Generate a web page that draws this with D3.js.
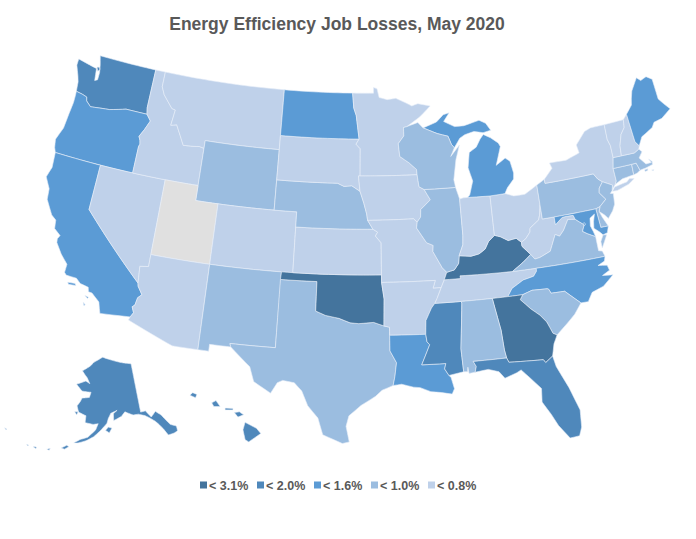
<!DOCTYPE html>
<html>
<head>
<meta charset="utf-8">
<script src="https://cdn.jsdelivr.net/npm/d3@7"></script>
<style>
  html, body { margin: 0; background: #fff; }
  text { font-family: "Liberation Sans", Arial, sans-serif; font-weight: bold; fill: #595959; }
</style>
</head>
<body>
<svg></svg>
<script>
let width = 696,
    height = 539;

// legend bins, darkest first
let binLabels = ["< 3.1%", "< 2.0%", "< 1.6%", "< 1.0%", "< 0.8%"];
let binColors = ["#44749d", "#4f88bb", "#5b9bd5", "#9bbde0", "#bfd1ea"];
let noDataColor = "#e0e0e0";

// which bin each state falls in
let bin31 = ["KY", "OK", "GA"];
let bin20 = ["WA", "AK", "HI", "FL", "MS"];
let bin16 = ["OR", "CA", "ND", "MI", "ME", "LA", "NC", "MD", "DC"];
let bin10 = ["WY", "NE", "NM", "TX", "IL", "AL", "SC", "VA", "PA", "NJ", "MA", "CT", "RI", "DE", "WI"];
let bin08 = ["MT", "ID", "NV", "AZ", "CO", "SD", "MN", "IA", "KS", "MO", "AR", "TN", "IN", "OH", "WV", "NY", "VT", "NH"];
let noData = ["UT"];

// the two insets sit a little off the stock albersUsa spot
let insetShift = {AK: [9, 2], HI: [6, -5]};

// simplified state outlines, "lon,lat" rings
let shapes = {
  WA: ["-124.7,48.38 -123.1,48.15 -122.75,48.1 -122.6,47.3 -122.35,47.4 -122.35,47.9 -122.5,48.4 -122.75,49 -117.03,49 -117.04,46.42 -116.92,45.99 -118.98,46 -119.3,45.93 -120.5,45.7 -121.2,45.65 -122.3,45.55 -122.8,45.85 -122.9,46.1 -123.4,46.2 -124,46.27 -124.07,46.7 -124.1,46.9 -124.3,47.3 -124.7,47.95",
       "-122.75,48.2 -122.5,48.25 -122.4,48.1 -122.55,47.95"],
  OR: ["-124,46.27 -123.4,46.2 -122.9,46.1 -122.8,45.85 -122.3,45.55 -121.2,45.65 -120.5,45.7 -119.3,45.93 -118.98,46 -116.92,45.99 -116.47,45.6 -116.85,44.95 -117.2,44.45 -117.03,44.2 -116.95,43.95 -117.03,43.8 -117.03,42 -124.21,42 -124.4,42.3 -124.55,42.84 -124.15,43.7 -124.05,44.7 -123.95,45.5 -123.97,46"],
  CA: ["-124.21,42 -120,42 -120,39 -114.63,35 -114.57,34.8 -114.14,34.3 -114.43,34.05 -114.53,33.55 -114.72,33.4 -114.52,33.03 -114.72,32.72 -117.12,32.53 -117.25,32.85 -117.4,33.25 -118.1,33.72 -118.4,33.75 -118.5,34.03 -119.2,34.15 -119.6,34.42 -120.47,34.45 -120.65,34.6 -120.63,35.15 -121.3,35.7 -121.9,36.35 -121.95,36.6 -121.8,36.85 -122.4,37.2 -122.5,37.75 -122.95,38 -123.7,38.9 -123.8,39.6 -124.35,40.3 -124.1,41",
       "-120.2,34.02 -119.6,34.07 -119.5,33.95 -120.1,33.9",
       "-118.6,33.45 -118.3,33.4 -118.35,33.3",
       "-118.6,33 -118.4,32.85 -118.5,32.8"],
  NV: ["-120,42 -114.04,42 -114.04,36.2 -114.75,36.1 -114.63,35 -120,39"],
  ID: ["-117.03,49 -116.05,49 -116.05,48 -115.7,47.5 -114.7,46.7 -114.35,46.65 -114.5,45.6 -113.95,45.7 -113.45,45.05 -113,44.45 -112,44.5 -111.5,44.55 -111.05,44.48 -111.05,42 -117.03,42 -117.03,43.8 -116.95,43.95 -117.03,44.2 -117.2,44.45 -116.85,44.95 -116.47,45.6 -116.92,45.99 -117.04,46.42"],
  MT: ["-116.05,49 -104.05,49 -104.05,45 -111.05,45 -111.05,44.48 -111.5,44.55 -112,44.5 -113,44.45 -113.45,45.05 -113.95,45.7 -114.5,45.6 -114.35,46.65 -114.7,46.7 -115.7,47.5 -116.05,48"],
  WY: ["-111.05,45 -104.05,45 -104.05,41 -111.05,41"],
  UT: ["-114.04,42 -111.05,42 -111.05,41 -109.05,41 -109.05,37 -114.04,37"],
  CO: ["-109.05,41 -102.05,41 -102.05,37 -109.05,37"],
  AZ: ["-114.04,37 -109.05,37 -109.05,31.33 -111.07,31.33 -114.81,32.5 -114.72,32.72 -114.52,33.03 -114.72,33.4 -114.53,33.55 -114.43,34.05 -114.14,34.3 -114.57,34.8 -114.63,35 -114.75,36.1 -114.04,36.2"],
  NM: ["-109.05,37 -103,37 -103.04,32 -106.62,32 -106.53,31.78 -108.2,31.78 -108.2,31.33 -109.05,31.33"],
  TX: ["-103.04,36.5 -100,36.5 -100,34.56 -99.2,34.3 -98.1,34.13 -97.2,33.85 -96.5,33.8 -95.3,33.88 -94.48,33.64 -94.04,33.55 -94.04,33.02 -94.04,31.99 -93.55,31.2 -93.7,30.3 -93.85,29.7 -94.7,29.4 -95.2,29 -96.3,28.4 -97.2,27.7 -97.4,27 -97.15,25.96 -97.65,25.85 -98.3,26.1 -99.1,26.4 -99.5,27.5 -100.3,28.3 -100.8,29.25 -101.4,29.77 -102.3,29.88 -102.7,29.7 -103.15,28.98 -104.5,29.65 -104.9,30.6 -106.53,31.78 -106.62,32 -103.04,32"],
  OK: ["-103,37 -94.62,37 -94.62,36.5 -94.43,35.4 -94.48,33.64 -95.3,33.88 -96.5,33.8 -97.2,33.85 -98.1,34.13 -99.2,34.3 -100,34.56 -100,36.5 -103.04,36.5"],
  KS: ["-102.05,40 -95.31,40 -94.9,39.8 -95.1,39.55 -94.61,39.1 -94.62,37 -102.05,37"],
  NE: ["-104.05,43 -98.5,43 -97.9,42.8 -97.2,42.85 -96.45,42.49 -96.1,41.7 -95.85,41 -95.77,40.58 -95.31,40 -102.05,40 -102.05,41 -104.05,41"],
  SD: ["-104.05,45.94 -96.56,45.94 -96.85,45.6 -96.45,45.3 -96.45,43.5 -96.6,43.5 -96.45,42.49 -97.2,42.85 -97.9,42.8 -98.5,43 -104.05,43"],
  ND: ["-104.05,49 -97.23,49 -97.1,48 -96.85,47.5 -96.56,45.94 -104.05,45.94"],
  MN: ["-97.23,49 -95.15,49 -95.15,49.38 -94.8,49.3 -94.6,48.7 -93.8,48.55 -92.95,48.62 -92,48.3 -91.4,48.07 -90.8,48.2 -89.6,48 -90.7,47.3 -92,46.7 -92.3,46.66 -92.3,46.1 -92.85,45.6 -92.75,44.75 -91.9,44.3 -91.25,43.85 -91.22,43.5 -96.45,43.5 -96.45,45.3 -96.85,45.6 -96.56,45.94 -96.85,47.5 -97.1,48"],
  IA: ["-96.6,43.5 -96.45,43.5 -91.22,43.5 -91.1,42.7 -90.65,42.5 -90.15,41.8 -91.05,41.2 -91.1,40.7 -91.42,40.38 -91.73,40.61 -95.77,40.58 -95.85,41 -96.1,41.7 -96.45,42.49"],
  MO: ["-95.77,40.58 -91.73,40.61 -91.42,40.38 -91.5,40 -90.7,39 -90.15,38.8 -90.2,38.4 -89.5,37.3 -89.15,36.98 -89.4,36.5 -89.7,36 -90.37,36 -90.15,36.5 -94.62,36.5 -94.62,37 -94.61,39.1 -95.1,39.55 -94.9,39.8 -95.31,40"],
  AR: ["-94.62,36.5 -90.15,36.5 -90.37,36 -89.7,36 -90.1,35.3 -90.3,35 -90.6,34.7 -91.1,33.9 -91.17,33 -94.04,33.02 -94.04,33.55 -94.48,33.64 -94.43,35.4"],
  LA: ["-94.04,33.02 -91.17,33 -91.1,32.5 -90.9,32.3 -91.6,31 -89.73,31 -89.85,30.65 -89.55,30.2 -89.4,30.05 -89.2,29.3 -89.4,28.95 -90.2,29.1 -91,29.2 -91.8,29.5 -92.3,29.55 -93.2,29.77 -93.85,29.7 -93.7,30.3 -93.55,31.2 -94.04,31.99"],
  MS: ["-90.3,35 -88.2,35 -88.1,34.9 -88.47,31.9 -88.4,30.37 -89.55,30.2 -89.85,30.65 -89.73,31 -91.6,31 -90.9,32.3 -91.1,32.5 -91.17,33 -91.1,33.9 -90.6,34.7"],
  TN: ["-90.3,35 -90.1,35.3 -89.7,36 -89.4,36.5 -88.05,36.5 -88.07,36.68 -83.68,36.6 -81.68,36.59 -81.7,36.4 -82,36.1 -82.9,35.95 -83.9,35.5 -84.32,35 -85.6,35 -88.2,35"],
  KY: ["-89.4,36.5 -89.15,36.98 -88.5,37.1 -88.1,37.5 -88,38 -87.5,37.95 -87,37.9 -86.3,38 -85.75,38.27 -85.4,38.73 -84.82,39.1 -84.3,38.95 -83.7,38.65 -83,38.73 -82.6,38.42 -82.6,38.15 -81.97,37.54 -82.7,37.1 -83.68,36.6 -88.07,36.68 -88.05,36.5"],
  IL: ["-90.65,42.5 -87.8,42.49 -87.53,41.7 -87.53,39.3 -87.6,38.7 -88,38 -88.1,37.5 -88.5,37.1 -89.15,36.98 -89.5,37.3 -90.2,38.4 -90.15,38.8 -90.7,39 -91.5,40 -91.42,40.38 -91.1,40.7 -91.05,41.2 -90.15,41.8"],
  IN: ["-87.53,41.7 -87.2,41.76 -86.82,41.76 -84.8,41.7 -84.82,39.1 -85.4,38.73 -85.75,38.27 -86.3,38 -87,37.9 -87.5,37.95 -88,38 -87.6,38.7 -87.53,39.3"],
  OH: ["-84.8,41.7 -83.45,41.73 -82.7,41.5 -81.7,41.5 -80.52,41.98 -80.52,40.64 -80.7,40 -80.85,39.7 -81.7,39.25 -81.75,39 -82.2,38.6 -82.6,38.42 -83,38.73 -83.7,38.65 -84.3,38.95 -84.82,39.1"],
  WV: ["-80.52,40.64 -80.52,39.72 -79.48,39.72 -79.48,39.2 -78.8,39.6 -78.4,39.62 -77.83,39.6 -77.72,39.32 -78.35,39.4 -78.87,38.76 -79.3,38.42 -79.65,38.58 -80.3,37.55 -81.25,37.25 -81.68,37.2 -81.97,37.54 -82.6,38.15 -82.6,38.42 -82.2,38.6 -81.75,39 -81.7,39.25 -80.85,39.7 -80.7,40"],
  VA: ["-83.68,36.6 -82.7,37.1 -81.97,37.54 -81.68,37.2 -81.25,37.25 -80.3,37.55 -79.65,38.58 -79.3,38.42 -78.87,38.76 -78.35,39.4 -77.72,39.32 -77.05,38.85 -77.3,38.45 -76.95,38.25 -76.3,37.95 -76.3,37.5 -76.3,37 -76,36.92 -75.87,36.55 -81.68,36.59",
       "-75.65,37.95 -75.35,37.9 -75.95,37.12 -75.95,37.55"],
  NC: ["-84.32,35 -83.9,35.5 -82.9,35.95 -82,36.1 -81.7,36.4 -81.68,36.59 -75.87,36.55 -76,36.25 -76.6,36.05 -75.85,35.95 -75.75,35.6 -76.4,35.35 -75.55,35.25 -76.5,34.65 -77.5,34.4 -77.95,33.85 -78.55,33.86 -79.68,34.8 -80.8,34.82 -80.93,35.1 -81.05,35.15 -82.3,35.2 -83.1,35"],
  SC: ["-83.1,35 -82.3,35.2 -81.05,35.15 -80.93,35.1 -80.8,34.82 -79.68,34.8 -78.55,33.86 -79.2,33.2 -79.9,32.7 -80.85,32.05 -81.15,32.2 -81.5,33 -81.95,33.5 -82.6,34 -83.35,34.7"],
  GA: ["-85.6,35 -84.32,35 -83.1,35 -83.35,34.7 -82.6,34 -81.95,33.5 -81.5,33 -81.15,32.2 -80.85,32.05 -81.2,31.5 -81.45,30.72 -82.05,30.36 -82.2,30.57 -84.86,30.7 -85,31 -85.1,31.55 -85.18,32.85"],
  AL: ["-88.2,35 -85.6,35 -85.18,32.85 -85.1,31.55 -85,31 -87.6,31 -87.4,30.65 -87.52,30.28 -88,30.23 -88.05,30.65 -88.1,30.35 -88.4,30.37 -88.47,31.9 -88.1,34.9"],
  FL: ["-87.6,31 -85,31 -84.86,30.7 -82.2,30.57 -82.05,30.36 -81.45,30.72 -81.3,30 -80.6,28.5 -80.05,26.9 -80.15,25.75 -80.4,25.2 -81.1,25.15 -81.8,26.1 -82.2,26.9 -82.75,27.8 -82.65,28.7 -83.4,29.5 -84,30.1 -84.35,29.95 -85.3,29.68 -85.7,30.15 -86.5,30.38 -87.52,30.28 -87.4,30.65"],
  MI: ["-86.82,41.76 -84.8,41.7 -83.45,41.73 -83.15,42.1 -82.5,42.6 -82.42,43 -82.6,43.8 -83,44.05 -83.9,43.65 -83.3,44.85 -83.45,45.1 -84.1,45.5 -84.75,45.78 -85.1,45.5 -85.55,45 -86.25,44.7 -86.5,43.7 -86.2,42.8 -86.6,41.9",
       "-90.42,46.57 -89.1,46.9 -88.4,47.35 -87.8,47.45 -88.4,46.9 -87.4,46.5 -86.5,46.5 -85,46.75 -84.4,46.5 -84,46 -84.75,45.9 -85.6,46.05 -86.5,45.9 -87,45.7 -87.6,45.1 -87.85,45.35 -88.1,45.9 -89.1,46.13"],
  WI: ["-92,46.7 -90.9,46.95 -90.42,46.57 -89.1,46.13 -88.1,45.9 -87.85,45.35 -87.6,45.1 -88,44.55 -87.1,45.25 -87.55,44.3 -87.9,43 -87.8,42.49 -90.65,42.5 -91.1,42.7 -91.22,43.5 -91.25,43.85 -91.9,44.3 -92.75,44.75 -92.85,45.6 -92.3,46.1 -92.3,46.66"],
  PA: ["-80.52,41.98 -79.76,42.27 -79.76,42 -75.35,42 -75.05,41.6 -74.7,41.36 -75.1,41 -75.2,40.7 -74.75,40.2 -75.4,39.8 -75.79,39.72 -80.52,39.72 -80.52,40.64"],
  NY: ["-79.76,42.27 -78.9,42.9 -79.05,43.27 -77.5,43.25 -76.4,43.5 -76.2,43.55 -76.3,44.1 -75.3,44.85 -74.7,45 -73.35,45 -73.4,44 -73.25,43.55 -73.27,42.75 -73.5,42.05 -73.49,41.2 -73.65,41 -73.9,40.8 -74,40.7 -73.9,41 -74.7,41.36 -75.05,41.6 -75.35,42 -79.76,42",
       "-74.03,40.6 -73.75,40.85 -72.6,40.98 -72.3,41.15 -71.9,41.07 -72.5,40.8 -73.6,40.58"],
  NJ: ["-74.7,41.36 -73.9,41 -74.05,40.65 -74.25,40.5 -74,40.45 -74.1,39.75 -74.4,39.35 -74.9,38.93 -75.15,39.2 -75.55,39.5 -75.4,39.8 -74.75,40.2 -75.2,40.7 -75.1,41"],
  DE: ["-75.79,39.72 -75.4,39.8 -75.55,39.5 -75.4,39.1 -75.05,38.45 -75.7,38.46"],
  MD: ["-79.48,39.72 -75.79,39.72 -75.7,38.46 -75.05,38.45 -75.25,38.03 -75.65,37.95 -75.9,38.2 -76.3,38.5 -76.2,38.95 -76,39.4 -76.45,39.2 -76.55,38.7 -76.4,38.3 -76.3,37.95 -76.95,38.25 -77.3,38.45 -77.05,38.85 -77.72,39.32 -77.83,39.6 -78.4,39.62 -78.8,39.6 -79.48,39.2"],
  DC: ["-77.12,38.93 -77.04,39 -76.91,38.89 -77.04,38.79"],
  CT: ["-73.5,42.05 -71.8,42.02 -71.85,41.32 -72.9,41.25 -73.65,41 -73.49,41.2"],
  RI: ["-71.8,42.02 -71.38,42.02 -71.2,41.5 -71.5,41.37 -71.85,41.32"],
  MA: ["-73.27,42.75 -72.5,42.73 -71.3,42.7 -70.82,42.87 -70.6,42.65 -71,42.3 -70.55,41.8 -70.05,41.8 -70.2,42.07 -69.95,41.85 -70,41.65 -70.65,41.55 -71.2,41.5 -71.38,42.02 -71.8,42.02 -73.5,42.05",
       "-70.8,41.45 -70.5,41.47 -70.55,41.35 -70.8,41.33",
       "-70.2,41.32 -70,41.3 -70.1,41.24"],
  VT: ["-73.35,45 -71.5,45.01 -71.6,44.5 -72.05,44.1 -72.4,43.4 -72.5,42.73 -73.27,42.75 -73.25,43.55 -73.4,44"],
  NH: ["-71.5,45.01 -71.08,45.3 -70.98,43.4 -70.7,43.07 -70.82,42.87 -71.3,42.7 -72.5,42.73 -72.4,43.4 -72.05,44.1 -71.6,44.5"],
  ME: ["-71.08,45.3 -70.4,45.8 -70.25,46.2 -70,46.7 -69.23,47.46 -68.9,47.2 -68.3,47.35 -67.8,47.07 -67.8,45.7 -67.45,45.3 -67,44.85 -68,44.4 -68.8,44.3 -69.1,44 -69.8,43.75 -70.25,43.6 -70.7,43.07 -70.98,43.4"],
  AK: ["-141,69.65 -141,60.3 -139.1,60.35 -137.5,58.95 -135.5,59.8 -133.8,58.8 -131.8,56.6 -130,55.9 -130.2,55 -131.5,54.8 -133.5,54.8 -134.5,56.2 -135.5,57.2 -136.5,58 -138,58.8 -139.7,59.5 -142,60 -144,60 -147,60.8 -148.5,60 -151.5,59.3 -151.5,60.6 -150,61.2 -152.5,60.7 -153.5,59.7 -154,58.8 -156.5,57.3 -158.5,56.2 -161,55.3 -163.5,54.7 -164.9,54.6 -163,55.4 -160.5,56 -158,57.5 -157.2,58.7 -159,58.5 -162,58.7 -162,60 -165,60.5 -166,61.6 -165,62.5 -164.5,63.2 -161.5,63.5 -161,64.5 -165,64.5 -168,65.6 -164,66.5 -162,66.1 -163.5,67.1 -166.5,68.3 -163,69.4 -161,70.3 -156.5,71.35 -152,70.85 -146,70.15",
       "-154.5,57.5 -153.5,58.1 -152.2,57.9 -153.2,57",
       "-168.5,53.2 -167,53.9 -166.2,53.7 -167.5,53.1",
       "-172.8,52.3 -171.8,52.6 -172,52.2",
       "-177,51.95 -176,52.1 -176,51.75",
       "-179.1,51.9 -178.5,51.95 -178.6,51.7",
       "172.5,53 173.4,52.95 173.2,52.8",
       "-166.5,60.4 -165.2,60.55 -165.5,59.9"],
  HI: ["-155.9,20.25 -155.1,19.85 -154.8,19.5 -155.65,18.95 -155.9,19.1 -156.05,19.75",
       "-156.65,20.9 -156.3,20.95 -156,20.75 -156.4,20.6",
       "-157.3,21.2 -156.75,21.18 -156.75,21.08 -157.3,21.08",
       "-158.25,21.55 -157.95,21.7 -157.65,21.3 -158.1,21.3",
       "-159.8,22.05 -159.6,22.22 -159.3,22.1 -159.4,21.88"]
};

let stateBin = new Map();
[bin31, bin20, bin16, bin10, bin08].forEach((codes, i) => {
    codes.forEach(code => stateBin.set(code, binLabels[i]))
})
noData.forEach(code => stateBin.set(code, null))

let colorScale = d3.scaleOrdinal()
    .domain(binLabels)
    .range(binColors);

// borders follow parallels, so add points along long runs
function parseRing(str) {
    let pts = str.split(" ").map(p => p.split(",").map(Number));
    let ring = [];
    pts.forEach((p, i) => {
        let q = pts[(i + 1) % pts.length];
        let steps = Math.ceil(Math.max(Math.abs(q[0] - p[0]), Math.abs(q[1] - p[1])) / 0.5);
        for (let s = 0; s < steps; s++) {
            ring.push([p[0] + (q[0] - p[0]) * s / steps, p[1] + (q[1] - p[1]) * s / steps]);
        }
    })
    ring.push(ring[0].slice());
    // d3 wants clockwise rings
    if (d3.geoArea({type: "Polygon", coordinates: [ring]}) > 2 * Math.PI) ring.reverse();
    return [ring];
}

let features = Object.keys(shapes).map(code => ({
    type: "Feature",
    id: code,
    geometry: {type: "MultiPolygon", coordinates: shapes[code].map(parseRing)}
}));

let projection = d3.geoAlbersUsa()
    .scale(865)
    .translate([358, 249]);

let path = d3.geoPath().projection(projection);

let svg = d3.select("svg")
    .attr("width", width)
    .attr("height", height)
    .style("display", "block");

svg.append("g").selectAll("path")
    .data(features)
    .enter().append("path")
    .attr("d", path)
    .attr("transform", d => insetShift[d.id] ? `translate(${insetShift[d.id]})` : null)
    .attr("fill", d => {
        let b = stateBin.get(d.id);
        return b ? colorScale(b) : noDataColor;
    })
    .attr("stroke", "#e8eff8")
    .attr("stroke-width", 0.6)
    .attr("stroke-linejoin", "round");

svg.append("text")
    .attr("x", 337)
    .attr("y", 30)
    .attr("text-anchor", "middle")
    .style("font-size", "17.5px")
    .text("Energy Efficiency Job Losses, May 2020");

let legendX = d3.scalePoint()
    .domain(binLabels)
    .range([200, 428]);

let legend = svg.append("g").selectAll("g")
    .data(binLabels)
    .enter().append("g")
    .attr("transform", d => `translate(${legendX(d)},485.5)`);

legend.append("rect")
    .attr("y", -4)
    .attr("width", 7)
    .attr("height", 7)
    .attr("fill", d => colorScale(d));

legend.append("text")
    .attr("x", 9)
    .attr("y", 4)
    .style("font-size", "12.5px")
    .text(d => d);
</script>
</body>
</html>
